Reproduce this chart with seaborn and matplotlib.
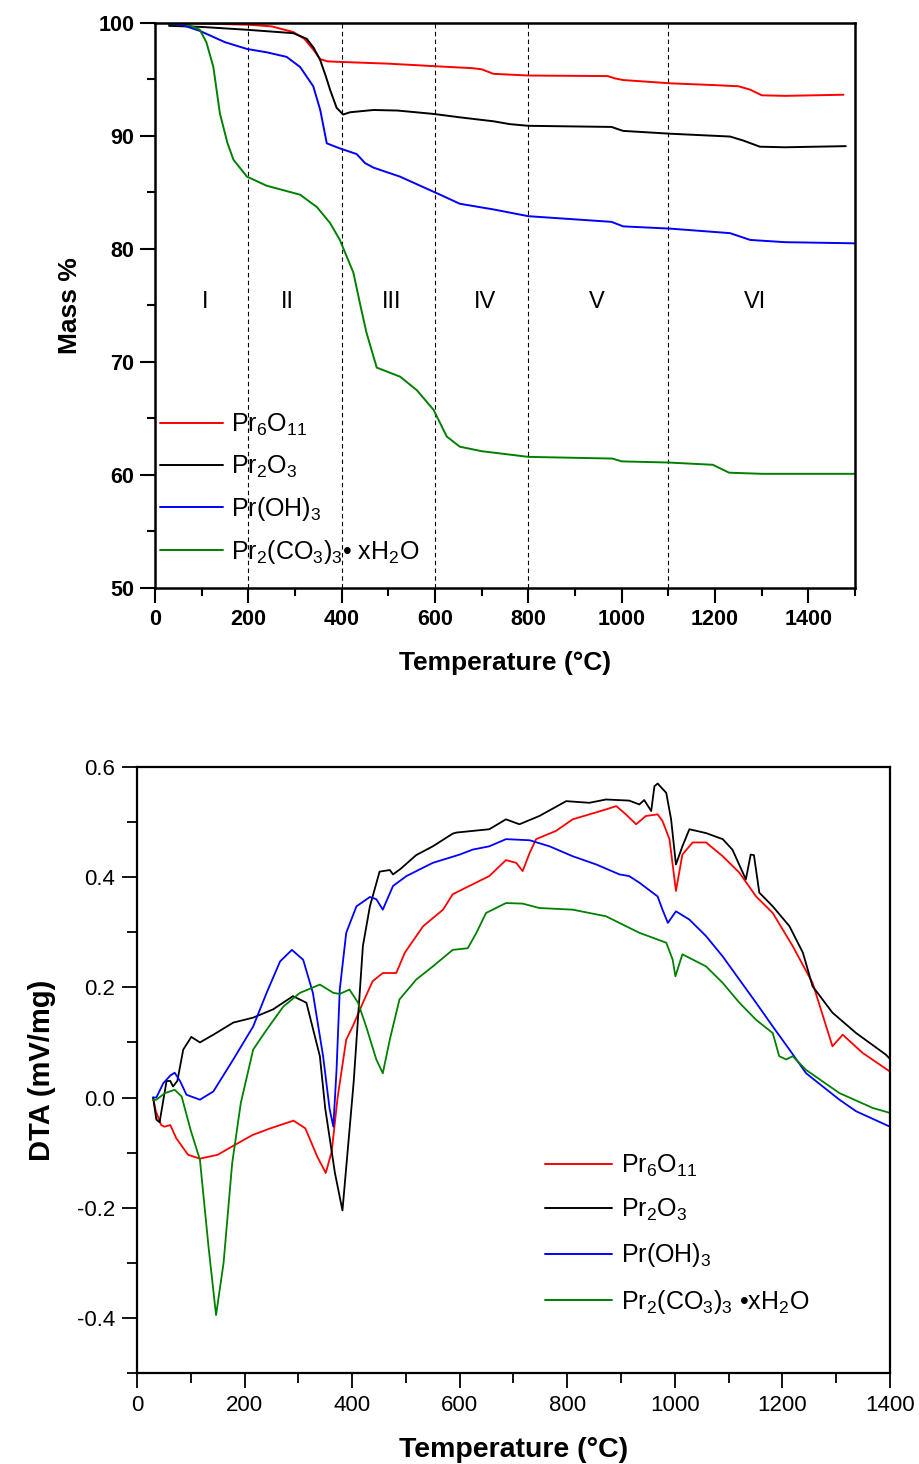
import numpy as np
import pandas as pd
import seaborn as sns
import matplotlib
matplotlib.use("Agg")
import matplotlib.pyplot as plt
from matplotlib.ticker import MultipleLocator

# ---------------- data ----------------
series_names = ["Pr$_6$O$_{11}$", "Pr$_2$O$_3$", "Pr(OH)$_3$", "Pr$_2$(CO$_3$)$_3$\u2022 xH$_2$O"]
series_names_dta = ["Pr$_6$O$_{11}$", "Pr$_2$O$_3$", "Pr(OH)$_3$", "Pr$_2$(CO$_3$)$_3$ \u2022xH$_2$O"]
series_colors = ["#ff0000", "#000000", "#0000ff", "#008000"]

# TGA (Mass %)
tga_red_T = [30, 100, 200, 250, 296, 320, 340, 354, 370, 400, 500, 611, 680, 700, 725, 800, 970, 985, 1003, 1104, 1200, 1250, 1275, 1300, 1350, 1475]
tga_red_m = [100.0, 99.95, 99.85, 99.7, 99.2, 98.6, 97.6, 96.8, 96.6, 96.55, 96.4, 96.15, 96.0, 95.9, 95.5, 95.35, 95.3, 95.1, 94.95, 94.66, 94.5, 94.4, 94.1, 93.6, 93.55, 93.65]

tga_black_T = [30, 100, 197, 296, 325, 340, 354, 365, 375, 389, 403, 418, 468, 520, 597, 653, 725, 760, 800, 978, 992, 1003, 1104, 1232, 1260, 1296, 1350, 1480]
tga_black_m = [99.75, 99.65, 99.4, 99.1, 98.6, 97.8, 96.7, 95.4, 94.1, 92.5, 91.9, 92.1, 92.3, 92.25, 91.95, 91.65, 91.3, 91.05, 90.9, 90.8, 90.6, 90.45, 90.2, 89.95, 89.6, 89.05, 89.0, 89.1]

tga_blue_T = [30, 60, 96, 150, 197, 240, 282, 311, 339, 354, 368, 396, 432, 450, 468, 525, 611, 653, 725, 800, 978, 1003, 1104, 1232, 1275, 1350, 1500]
tga_blue_m = [99.9, 99.8, 99.3, 98.3, 97.7, 97.4, 97.0, 96.1, 94.4, 92.3, 89.35, 88.9, 88.4, 87.6, 87.2, 86.4, 84.8, 84.0, 83.5, 82.9, 82.4, 82.0, 81.8, 81.4, 80.8, 80.6, 80.5]

tga_green_T = [30, 68, 96, 110, 125, 139, 155, 168, 197, 239, 311, 347, 375, 396, 425, 440, 453, 475, 525, 561, 597, 625, 653, 700, 800, 980, 1000, 1100, 1195, 1230, 1300, 1500]
tga_green_m = [99.9, 99.9, 99.4, 98.3, 96.1, 92.0, 89.4, 87.9, 86.4, 85.6, 84.8, 83.7, 82.3, 80.8, 77.9, 75.0, 72.6, 69.5, 68.7, 67.5, 65.75, 63.4, 62.5, 62.1, 61.6, 61.45, 61.2, 61.1, 60.9, 60.2, 60.1, 60.1]

stage_bounds = [200, 400, 600, 800, 1100]
stage_labels = ["I", "II", "III", "IV", "V", "VI"]
stage_label_T = [107, 283, 506, 707, 947, 1286]
stage_label_y = 75.3

# DTA (mV/mg)
dta_red_T = [30, 35, 45, 51, 62, 73, 95, 117, 150, 182, 215, 248, 291, 313, 335, 351, 362, 373, 389, 401, 420, 438, 457, 482, 498, 532, 569, 587, 624, 655, 686, 705, 717, 730, 742, 779, 810, 841, 872, 891, 909, 928, 946, 968, 977, 990, 1002, 1014, 1033, 1058, 1089, 1120, 1151, 1182, 1219, 1256, 1293, 1312, 1349, 1400]
dta_red_v = [0.0, -0.025, -0.05, -0.053, -0.05, -0.074, -0.104, -0.111, -0.104, -0.086, -0.068, -0.056, -0.042, -0.056, -0.107, -0.137, -0.098, 0.0, 0.105, 0.129, 0.172, 0.211, 0.226, 0.226, 0.263, 0.311, 0.341, 0.369, 0.387, 0.402, 0.431, 0.426, 0.411, 0.444, 0.469, 0.484, 0.505, 0.514, 0.523, 0.529, 0.514, 0.496, 0.511, 0.514, 0.502, 0.469, 0.375, 0.441, 0.463, 0.463, 0.438, 0.408, 0.365, 0.335, 0.275, 0.208, 0.093, 0.114, 0.081, 0.047]

dta_black_T = [30, 36, 42, 55, 62, 67, 75, 86, 101, 117, 142, 179, 216, 253, 290, 315, 340, 350, 368, 382, 395, 403, 412, 420, 433, 451, 470, 476, 490, 519, 550, 587, 594, 655, 686, 711, 748, 798, 841, 872, 915, 934, 943, 956, 962, 968, 984, 993, 1002, 1014, 1027, 1058, 1089, 1107, 1132, 1141, 1147, 1157, 1182, 1213, 1238, 1256, 1293, 1337, 1392, 1400]
dta_black_v = [0.0, -0.04, -0.045, 0.03, 0.03, 0.02, 0.03, 0.087, 0.11, 0.10, 0.114, 0.136, 0.145, 0.16, 0.184, 0.172, 0.075, -0.02, -0.137, -0.205, -0.06, 0.03, 0.16, 0.275, 0.347, 0.41, 0.413, 0.405, 0.415, 0.44, 0.456, 0.479, 0.481, 0.487, 0.505, 0.496, 0.511, 0.538, 0.535, 0.541, 0.539, 0.532, 0.54, 0.52, 0.565, 0.570, 0.553, 0.505, 0.423, 0.456, 0.487, 0.48, 0.469, 0.45, 0.396, 0.441, 0.44, 0.372, 0.347, 0.311, 0.263, 0.202, 0.154, 0.117, 0.078, 0.07]

dta_blue_T = [30, 36, 49, 62, 70, 80, 92, 117, 142, 179, 216, 241, 266, 288, 309, 327, 346, 358, 365, 371, 377, 389, 408, 433, 445, 457, 476, 501, 550, 600, 624, 655, 686, 730, 767, 810, 854, 897, 915, 934, 968, 977, 987, 1002, 1027, 1058, 1089, 1120, 1151, 1182, 1213, 1244, 1275, 1306, 1337, 1400]
dta_blue_v = [0.0, 0.0, 0.026, 0.04, 0.045, 0.03, 0.005, -0.004, 0.011, 0.069, 0.129, 0.19, 0.247, 0.268, 0.25, 0.19, 0.075, -0.02, -0.053, 0.05, 0.196, 0.299, 0.347, 0.364, 0.36, 0.341, 0.384, 0.402, 0.426, 0.441, 0.45, 0.456, 0.469, 0.467, 0.456, 0.438, 0.423, 0.405, 0.402, 0.39, 0.365, 0.341, 0.317, 0.338, 0.323, 0.293, 0.256, 0.214, 0.172, 0.129, 0.087, 0.044, 0.02, -0.004, -0.025, -0.053]

dta_green_T = [30, 36, 52, 70, 83, 100, 117, 133, 147, 161, 177, 193, 216, 241, 272, 303, 340, 365, 377, 395, 411, 426, 445, 457, 470, 488, 519, 550, 587, 615, 631, 649, 686, 717, 748, 810, 872, 934, 984, 996, 1001, 1014, 1058, 1089, 1120, 1151, 1182, 1194, 1207, 1219, 1244, 1306, 1368, 1400]
dta_green_v = [-0.005, -0.004, 0.008, 0.014, 0.002, -0.06, -0.113, -0.271, -0.395, -0.30, -0.119, -0.01, 0.087, 0.123, 0.165, 0.19, 0.205, 0.19, 0.188, 0.196, 0.172, 0.129, 0.069, 0.044, 0.105, 0.178, 0.214, 0.238, 0.268, 0.271, 0.299, 0.335, 0.353, 0.352, 0.344, 0.341, 0.329, 0.299, 0.281, 0.25, 0.22, 0.26, 0.238, 0.208, 0.172, 0.141, 0.117, 0.075, 0.069, 0.075, 0.05, 0.008, -0.019, -0.028]


def long_frame(xs, ys, names, xcol, ycol):
    frames = []
    for x, y, n in zip(xs, ys, names):
        frames.append(pd.DataFrame({xcol: x, ycol: y, "sample": n}))
    return pd.concat(frames, ignore_index=True)


tga = long_frame([tga_red_T, tga_black_T, tga_blue_T, tga_green_T],
                 [tga_red_m, tga_black_m, tga_blue_m, tga_green_m],
                 series_names, "T", "mass")
dta = long_frame([dta_red_T, dta_black_T, dta_blue_T, dta_green_T],
                 [dta_red_v, dta_black_v, dta_blue_v, dta_green_v],
                 series_names_dta, "T", "dta")

# ---------------- style ----------------
sns.set_theme(style="white")
plt.rcParams["font.family"] = ["Liberation Sans", "DejaVu Sans"]
plt.rcParams["mathtext.fontset"] = "custom"
plt.rcParams["mathtext.rm"] = "Liberation Sans"
plt.rcParams["mathtext.it"] = "Liberation Sans:italic"
plt.rcParams["mathtext.bf"] = "Liberation Sans:bold"
plt.rcParams["mathtext.default"] = "regular"
plt.rcParams["text.color"] = "black"
plt.rcParams["axes.labelcolor"] = "black"
plt.rcParams["xtick.color"] = "black"
plt.rcParams["ytick.color"] = "black"

fig = plt.figure(figsize=(9.2, 14.64), dpi=100)
ax1 = fig.add_axes([0.1685, 0.5984, 0.761, 0.3859])
ax2 = fig.add_axes([0.1489, 0.0622, 0.8185, 0.4139])

# ---------------- TGA ----------------
sns.lineplot(data=tga, x="T", y="mass", hue="sample", hue_order=series_names,
             palette=series_colors, estimator=None, sort=False, linewidth=1.4,
             ax=ax1, legend=False)
for b in stage_bounds:
    ax1.axvline(b, color="black", linestyle=(0, (4, 3)), linewidth=0.8, zorder=0)
for lab, t in zip(stage_labels, stage_label_T):
    ax1.text(t, stage_label_y, lab, ha="center", va="center", fontsize=17, color="black")

ax1.set_xlim(0, 1500)
ax1.set_ylim(50, 100)
ax1.xaxis.set_major_locator(MultipleLocator(200))
ax1.xaxis.set_minor_locator(MultipleLocator(100))
ax1.yaxis.set_major_locator(MultipleLocator(10))
ax1.yaxis.set_minor_locator(MultipleLocator(5))
ax1.tick_params(which="both", direction="out", bottom=True, left=True, top=False, right=False,
                width=1.5, color="black", labelcolor="black")
ax1.tick_params(which="major", length=11, labelsize=15.5, pad=4)
ax1.tick_params(which="minor", length=6)
for lbl in ax1.get_xticklabels() + ax1.get_yticklabels():
    lbl.set_fontweight("bold")
ax1.set_xlabel("Temperature (\u00b0C)", fontsize=19, fontweight="bold", labelpad=15, color="black")
ax1.set_ylabel("Mass %", fontsize=19, fontweight="bold", labelpad=12, color="black")
for s in ax1.spines.values():
    s.set_color("black")
    s.set_linewidth(1.8)

h1 = [plt.Line2D([], [], color=c, linewidth=1.4) for c in series_colors]
ax1.legend(h1, series_names, loc="upper left", bbox_to_anchor=(0.0, 0.32), frameon=False,
           fontsize=18, handlelength=2.5, handletextpad=0.35, labelspacing=0.6,
           borderpad=0, borderaxespad=0.2)

# ---------------- DTA ----------------
sns.lineplot(data=dta, x="T", y="dta", hue="sample", hue_order=series_names_dta,
             palette=series_colors, estimator=None, sort=False, linewidth=1.3,
             ax=ax2, legend=False)
ax2.set_xlim(0, 1400)
ax2.set_ylim(-0.5, 0.6)
ax2.xaxis.set_major_locator(MultipleLocator(200))
ax2.xaxis.set_minor_locator(MultipleLocator(100))
ax2.yaxis.set_major_locator(MultipleLocator(0.2))
ax2.yaxis.set_minor_locator(MultipleLocator(0.1))
ax2.yaxis.set_major_formatter(matplotlib.ticker.FuncFormatter(lambda v, p: f"{v:.1f}"))
ax2.tick_params(which="both", direction="out", bottom=True, left=True, top=False, right=False,
                width=1.3, color="black", labelcolor="black")
ax2.tick_params(which="major", length=11, labelsize=16, pad=5)
ax2.tick_params(which="minor", length=7)
ax2.set_xlabel("Temperature (\u00b0C)", fontsize=20.5, fontweight="bold", labelpad=15, color="black")
ax2.set_ylabel("DTA (mV/mg)", fontsize=21, fontweight="bold", labelpad=15, color="black")
for s in ax2.spines.values():
    s.set_color("black")
    s.set_linewidth(1.6)

h2 = [plt.Line2D([], [], color=c, linewidth=1.4) for c in series_colors]
ax2.legend(h2, series_names_dta, loc="upper left", bbox_to_anchor=(0.535, 0.372), frameon=False,
           fontsize=18, handlelength=2.7, handletextpad=0.35, labelspacing=0.73,
           borderpad=0, borderaxespad=0.2)

fig.savefig("out.png", dpi=100)
